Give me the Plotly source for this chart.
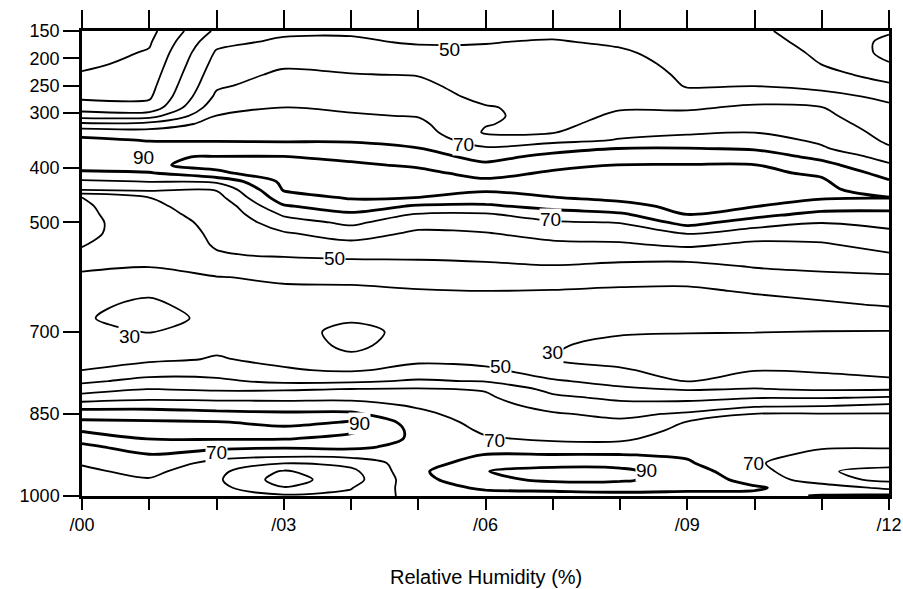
import numpy as np
import plotly.graph_objects as go

# hours after /00 and pressure levels (hPa)
hours = list(range(13))
pressure = [150, 170, 190, 210, 230, 250, 270, 290, 305, 320, 335, 350, 365, 380, 395,
            410, 425, 440, 455, 470, 485, 500, 520, 540, 560, 580, 600, 625, 650, 675,
            700, 725, 750, 770, 790, 805, 820, 835, 850, 865, 880, 895, 910, 925, 940,
            955, 970, 985, 1000]

# relative humidity (%) profiles, one list per hour, top to bottom
rh_00 = [12, 14, 16, 18, 21, 24, 28, 35, 45.5, 62, 76, 82.3, 85.7, 87.5, 83.2, 78.6, 68.4, 60.5, 39, 38,
         37, 36, 37, 39.5, 41.5, 41.5, 38.5, 35.1, 32.3, 31.3, 33, 35.5, 38, 40, 48, 55.3, 64.3, 75.4,
         85.6, 91.8, 91, 83.8, 77.6, 73.9, 70.7, 68.2, 66, 65, 64]
rh_01 = [17, 18.9, 20.9, 22.8, 24.7, 26.6, 28.6, 33.3, 45.6, 63.3, 74.1, 79.6, 83.8, 89.5, 89, 78.8, 70.4,
         61.7, 49.8, 49.2, 48.6, 48, 46.8, 45.6, 43.5, 40.3, 36.4, 32.1, 27.9, 24.9, 29.6, 34, 38.4, 44.6,
         53.2, 60.4, 67.5, 76.3, 85, 91.1, 92.3, 90.4, 85.2, 79.5, 76.1, 72.7, 69.3, 66, 65]
rh_02 = [42, 47.3, 51.2, 53.7, 56.1, 58.5, 61.9, 66.7, 70.2, 73.5, 76.3, 79.4, 84.4, 90.3, 92, 88.6, 72,
         60.7, 56, 52, 51.5, 51, 50.8, 50.5, 49.5, 44.4, 39.7, 37.3, 34.9, 33.4, 36.5, 38.7, 40.5, 45.8,
         51.8, 58.6, 67.1, 75, 82.9, 90.5, 93, 90.8, 82.9, 74.2, 67, 62.7, 61.5, 63, 64]
rh_03 = [48, 51.7, 55.2, 58.6, 61.7, 64.5, 67.3, 70.2, 72.4, 74.7, 77, 79.2, 84, 90.3, 92, 94, 92.3, 90.7,
         85.9, 79, 71.5, 65.6, 59, 54.8, 50.6, 46.4, 41.2, 38.7, 37, 35.6, 34, 36.2, 38.4, 40.7, 47.6,
         58.9, 67, 74.5, 81.7, 88, 92, 90.7, 81.4, 72.8, 60.3, 48.8, 45.6, 50.5, 62]
rh_04 = [49, 51.1, 54.2, 57.3, 60.4, 63.2, 65.9, 68.6, 70.9, 73.6, 76.4, 79.1, 83.2, 88.1, 91.3, 93.5,
         94.5, 92.6, 90.7, 85.5, 78.3, 72.1, 64.4, 57.6, 51.5, 47.2, 42.6, 38, 35.7, 31.4, 27, 27.5, 32.9,
         39, 48.1, 60.5, 67.3, 74.5, 81.7, 90.4, 92, 87, 82.3, 73.6, 63.1, 57.5, 55.8, 59.5, 62]
rh_05 = [47, 49.2, 52.4, 56, 59.6, 62.3, 64.9, 67.5, 69.5, 72, 74.7, 77.5, 80.3, 84.6, 88.9, 92.1, 95,
         92.3, 89.9, 78.7, 69.3, 63.7, 58.3, 54.9, 51.5, 47.8, 43.9, 39.4, 37.5, 35.5, 33, 35.3, 38.4,
         42.5, 51.3, 61.1, 64.7, 68.9, 72.2, 75, 76.8, 78, 76.5, 75, 76, 78, 77, 75.5, 74]
rh_06 = [47, 49.7, 51.3, 52.7, 54.1, 55.5, 57.3, 60.8, 61.5, 60.5, 59, 63.8, 71.7, 76.7, 81.9, 87.4, 91.5,
         91.3, 85.9, 78.5, 68.9, 64.7, 59.5, 55.8, 52.2, 48.5, 44.7, 40, 37.7, 35.5, 33.5, 33, 36, 42.1,
         49.3, 59.3, 61.6, 63.4, 65.1, 66.9, 68.6, 70.9, 75.5, 80.4, 84.5, 89.8, 87, 81.5, 76]
rh_07 = [48, 50.6, 52.3, 53.9, 55.4, 56.3, 56.8, 56.8, 56.5, 57, 59.3, 67.1, 76.3, 83, 88, 91.1, 93, 91.6,
         89.8, 83.2, 75.6, 68.6, 63.2, 58.3, 53.9, 49.6, 45.1, 39.6, 37.5, 35.4, 33.1, 30.9, 29.8, 34.8,
         41.1, 47, 52.2, 56.9, 60.9, 63.4, 66, 68.6, 73.2, 80.4, 86.8, 93.1, 92.3, 82.9, 76]
rh_08 = [47, 48.8, 51.1, 52.8, 54.4, 56.1, 57.7, 59.3, 61.4, 64.3, 67.3, 70.7, 80.3, 85.2, 90.2, 91.3,
         92.6, 92.2, 91, 88.6, 78.3, 70.3, 64.4, 58.9, 53.3, 48.1, 43.3, 38.8, 36.2, 33.6, 31, 27.3, 26.9,
         31.1, 36.9, 41.7, 47.9, 53.1, 57.8, 61.7, 65, 68.3, 73.2, 80.4, 86.8, 92.1, 91.7, 83.6, 77]
rh_09 = [45, 45.9, 46.8, 47.7, 48.6, 49.5, 52.5, 58.8, 62.3, 65.4, 68.5, 73.6, 80.4, 86.2, 90.3, 91.2,
         92.1, 93, 92.1, 91.3, 90.4, 83.8, 70.3, 62, 53.8, 47.4, 42.8, 38.6, 35.9, 33.2, 30.4, 26.8, 23,
         26.3, 29.7, 39.3, 47, 54.1, 61.4, 70.4, 72.5, 74.6, 76.7, 78.8, 81.2, 84.1, 84.9, 81.6, 78]
rh_10 = [42, 43.6, 45.1, 46.7, 48.3, 49.8, 56, 61.5, 64.3, 67, 69.8, 74.4, 79.1, 85.2, 90.3, 91.5, 92.6,
         92.4, 91.4, 90.4, 83.8, 75, 65, 58.1, 54.3, 50.6, 46.3, 40.9, 37, 33.5, 30.2, 26.3, 25.9, 29.6,
         35.6, 40.6, 49.4, 58.2, 70.2, 72, 73.8, 74.6, 73.4, 72.2, 71, 74, 77, 81, 78]
rh_11 = [35, 36.7, 38.4, 39.8, 43.6, 47.6, 52.9, 60.3, 62.1, 64.2, 66.3, 68.3, 71.3, 77.5, 83.3, 88.9,
         91.1, 91.7, 90.8, 85.7, 76.8, 70.3, 64.3, 59.1, 55.5, 51.8, 48.1, 43.3, 38.6, 34.1, 29.8, 26.8,
         26.3, 28.8, 33.8, 39, 49.2, 59.4, 70.5, 72.2, 74, 72.3, 70.7, 68.2, 65.1, 60.8, 64, 75.8, 80.5]
rh_12 = [31, 28, 27.5, 30.5, 36, 41.6, 48.1, 51.6, 53.4, 55.1, 56.9, 58.6, 61, 66.2, 71.3, 76.1, 81, 86.1,
         90.3, 83.4, 77.6, 73, 67.8, 63.5, 58.9, 53.3, 48.7, 44.8, 40.8, 35.2, 29.6, 25.7, 25.3, 27.8,
         31.1, 39.4, 50.8, 62.1, 70.5, 72.2, 74, 72.3, 70.7, 67.2, 62.5, 57.7, 57.3, 67.8, 82]

rh = np.array([rh_00, rh_01, rh_02, rh_03, rh_04, rh_05, rh_06,
               rh_07, rh_08, rh_09, rh_10, rh_11, rh_12]).T

# contour labels as printed on the chart
label_text = ["50", "70", "90", "70", "50", "30", "30", "50", "90", "70", "70", "90", "70"]
label_hour = [5.47, 5.68, 0.91, 6.97, 3.76, 0.71, 7.0, 6.22, 4.13, 2.0, 6.13, 8.40, 9.99]
label_pres = [183, 357, 382, 494, 565, 708, 737, 764, 867, 920, 898, 954, 940]

tick_text = ["/00", "", "", "/03", "", "", "/06", "", "", "/09", "", "", "/12"]
p_ticks = [150, 200, 250, 300, 400, 500, 700, 850, 1000]

FONT = "Liberation Sans, Arial, Helvetica, sans-serif"

fig = go.Figure()
fig.add_trace(go.Contour(
    x=hours, y=pressure, z=rh, showscale=False, hoverinfo="skip",
    contours=dict(start=20, end=70, size=10, coloring="none"),
    line=dict(color="black", width=1.8, smoothing=0.9)))
fig.add_trace(go.Contour(
    x=hours, y=pressure, z=rh, showscale=False, hoverinfo="skip",
    contours=dict(start=80, end=90, size=10, coloring="none"),
    line=dict(color="black", width=2.8, smoothing=0.9)))
# empty trace so the top tick axis is drawn
fig.add_trace(go.Scatter(x=[], y=[], xaxis="x2", showlegend=False))

for t, h, p in zip(label_text, label_hour, label_pres):
    fig.add_annotation(x=h, y=p, text=t, showarrow=False, bgcolor="white",
                       borderpad=0, font=dict(size=19, color="black", family=FONT))

fig.add_annotation(x=0.5, y=-0.174, xref="paper", yref="paper", showarrow=False,
                   text="Relative Humidity (%)", yanchor="middle",
                   font=dict(size=20, color="black", family=FONT))

fig.update_layout(
    width=903, height=589,
    margin=dict(l=82, r=14, t=31, b=93),
    paper_bgcolor="white", plot_bgcolor="white",
    showlegend=False,
    font=dict(family=FONT, color="black"),
    xaxis=dict(range=[0, 12], tickvals=hours, ticktext=tick_text, automargin=False,
               ticks="outside", ticklen=11, tickwidth=1.5, tickcolor="black",
               showline=True, linewidth=2.5, linecolor="black", mirror=True,
               showgrid=False, zeroline=False, tickfont=dict(size=18)),
    xaxis2=dict(range=[0, 12], overlaying="x", side="top", tickvals=hours, automargin=False,
                ticks="outside", ticklen=20, tickwidth=1.5, tickcolor="black",
                showticklabels=False, showline=False, showgrid=False, zeroline=False),
    yaxis=dict(range=[1000, 150], tickvals=p_ticks, ticks="outside", ticklen=16,
               tickwidth=1.5, tickcolor="black", automargin=False,
               showline=True, linewidth=2.5, linecolor="black", mirror=True,
               showgrid=False, zeroline=False, tickfont=dict(size=18)),
)

# drop the browser's default page margin so the figure fills the window
fig.write_html("out.html", config={"displayModeBar": False},
               post_script="document.body.style.margin='0';")
